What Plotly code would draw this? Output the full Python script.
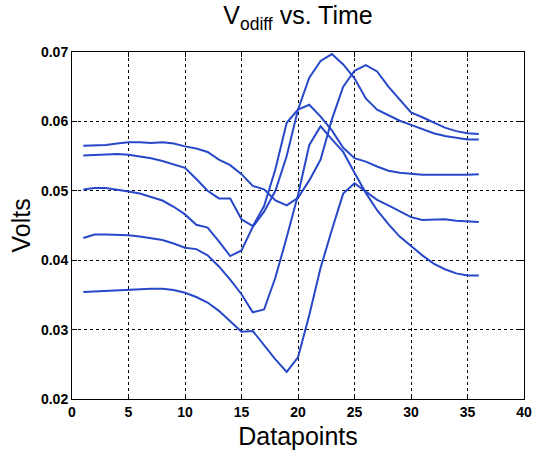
import plotly.graph_objects as go

# Sample index (datapoints 1..36)
datapoints = list(range(1, 37))

# Output differential voltage for five runs (V)
run_a = [0.0565, 0.0565, 0.0566, 0.0568, 0.0570, 0.0570, 0.0569, 0.0570, 0.0568, 0.0564,
         0.0561, 0.0556, 0.0545, 0.0537, 0.0524, 0.0507, 0.0502, 0.0486, 0.0479, 0.0490,
         0.0515, 0.0545, 0.0603, 0.0650, 0.0673, 0.0681, 0.0672, 0.0650, 0.0631, 0.0613,
         0.0606, 0.0598, 0.0591, 0.0586, 0.0583, 0.0582]
run_b = [0.0551, 0.0552, 0.0553, 0.0553, 0.0552, 0.0550, 0.0547, 0.0543, 0.0538, 0.0533,
         0.0517, 0.0500, 0.0489, 0.0489, 0.0459, 0.0449, 0.0478, 0.0531, 0.0598, 0.0617,
         0.0624, 0.0607, 0.0587, 0.0562, 0.0547, 0.0542, 0.0535, 0.0529, 0.0526, 0.0524,
         0.0523, 0.0523, 0.0523, 0.0522, 0.0523, 0.0524]
run_c = [0.0502, 0.0504, 0.0504, 0.0502, 0.0499, 0.0496, 0.0491, 0.0486, 0.0477, 0.0466,
         0.0451, 0.0447, 0.0427, 0.0406, 0.0414, 0.0448, 0.0470, 0.0500, 0.0550, 0.0617,
         0.0663, 0.0687, 0.0697, 0.0682, 0.0662, 0.0633, 0.0617, 0.0609, 0.0601, 0.0595,
         0.0589, 0.0583, 0.0579, 0.0576, 0.0574, 0.0574]
run_d = [0.0432, 0.0437, 0.0437, 0.0437, 0.0436, 0.0434, 0.0432, 0.0429, 0.0424, 0.0418,
         0.0416, 0.0407, 0.0391, 0.0372, 0.0351, 0.0325, 0.0329, 0.0375, 0.0433, 0.0494,
         0.0566, 0.0593, 0.0574, 0.0556, 0.0526, 0.0497, 0.0472, 0.0452, 0.0434, 0.0420,
         0.0407, 0.0395, 0.0387, 0.0381, 0.0378, 0.0378]
run_e = [0.0354, 0.0355, 0.0355, 0.0356, 0.0358, 0.0358, 0.0359, 0.0359, 0.0357, 0.0353,
         0.0347, 0.0339, 0.0327, 0.0312, 0.0297, 0.0298, 0.0277, 0.0257, 0.0239, 0.0260,
         0.0321, 0.0389, 0.0444, 0.0496, 0.0511, 0.0499, 0.0487, 0.0479, 0.0470, 0.0462,
         0.0458, 0.0458, 0.0459, 0.0457, 0.0456, 0.0455]

runs = [run_a, run_b, run_c, run_d, run_e]

x_ticks = [0, 5, 10, 15, 20, 25, 30, 35, 40]
y_ticks = [0.02, 0.03, 0.04, 0.05, 0.06, 0.07]

LINE_BLUE = "#2748c8"
FONT = "Liberation Sans, Arial, sans-serif"

fig = go.Figure()
for values in runs:
    fig.add_trace(go.Scatter(
        x=datapoints, y=values, mode="lines",
        line=dict(color=LINE_BLUE, width=2),
        showlegend=False, hoverinfo="skip",
    ))

axis_common = dict(
    showline=True, linecolor="black", linewidth=1, mirror="ticks",
    ticks="inside", ticklen=5, tickcolor="black",
    showgrid=True, gridcolor="black", gridwidth=1, griddash="dot",
    zeroline=False, ticklabeloverflow="allow",
    tickfont=dict(family=FONT, size=14, color="black", weight="bold"),
)

fig.update_xaxes(
    range=[0, 40], tickvals=x_ticks, ticktext=[str(v) for v in x_ticks],
    title=dict(text="Datapoints", font=dict(family=FONT, size=25, color="black"), standoff=8),
    **axis_common,
)
fig.update_yaxes(
    range=[0.02, 0.07], tickvals=y_ticks, ticktext=[f"{v:.2f}" for v in y_ticks],
    **axis_common,
)

# Vertical axis label placed as a rotated annotation left of the tick labels
fig.add_annotation(
    text="Volts", textangle=-90, showarrow=False,
    xref="paper", yref="paper", x=-0.115, y=0.5,
    xanchor="center", yanchor="middle",
    font=dict(family=FONT, size=25, color="black"),
)

fig.update_layout(
    width=537, height=451,
    margin=dict(l=72, r=5, t=52, b=52),
    paper_bgcolor="white", plot_bgcolor="white",
    title=dict(
        text="V<sub>odiff</sub> vs. Time",
        font=dict(family=FONT, size=25, color="black"),
        x=0.5, xref="paper", xanchor="center",
        y=0.985, yref="container", yanchor="top",
    ),
)

fig.write_html("out.html")
